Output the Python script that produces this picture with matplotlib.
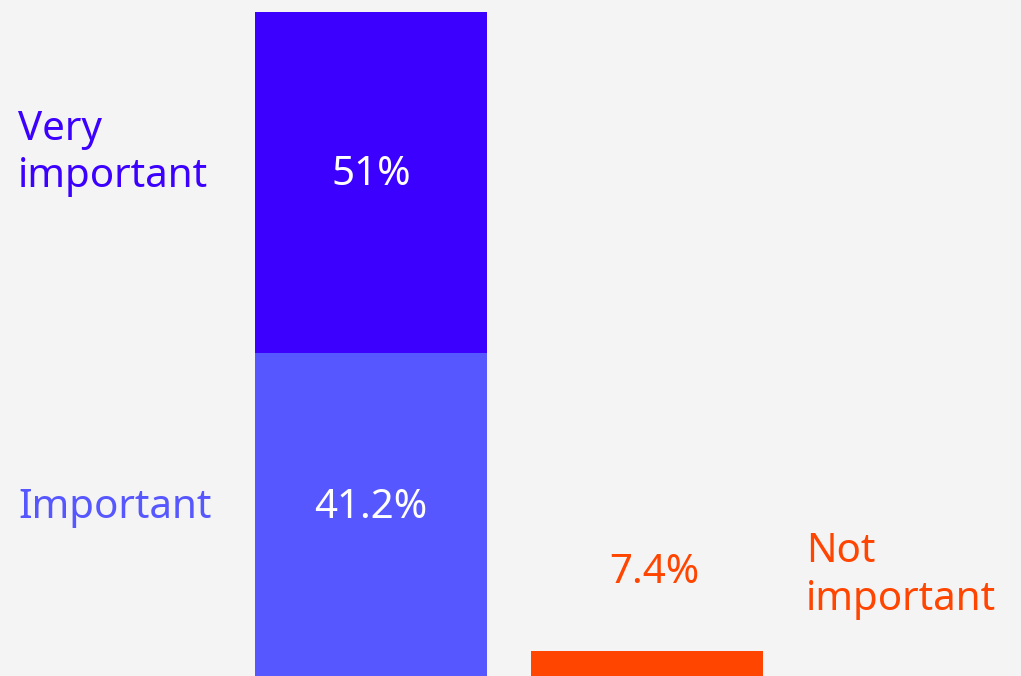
import numpy as np
import matplotlib
matplotlib.use('Agg')
import matplotlib.pyplot as plt

# data
CATEGORIES=['Very important','Important','Not important']
VALUES=[51.0,41.2,7.4]
VALUE_LABELS=['51%','41.2%','7.4%']

BG='#f4f4f4'
COLORS=['#3c00ff','#5757ff','#ff4500']
FONT='Noto Sans'
FONTSIZE=29
BAR_WIDTH=0.84
POWER=0.75

plt.rcParams['font.family']=[FONT,'DejaVu Sans']

def fwd(v):
    v=np.asarray(v,dtype=float)
    return np.sign(v)*np.abs(v)**POWER

def inv(v):
    v=np.asarray(v,dtype=float)
    return np.sign(v)*np.abs(v)**(1/POWER)

fig=plt.figure(figsize=(10.21,6.76),dpi=100)
fig.patch.set_facecolor(BG)
ax=fig.add_axes([0,0,1,1])
ax.set_facecolor(BG)

# stacked bar (very important on top of important), separate bar for not important
ax.bar(0,VALUES[1],width=BAR_WIDTH,color=COLORS[1],linewidth=0)
ax.bar(0,VALUES[0],bottom=VALUES[1],width=BAR_WIDTH,color=COLORS[0],linewidth=0)
ax.bar(1,VALUES[2],width=BAR_WIDTH,color=COLORS[2],linewidth=0)

# compressed scale, baseline sits below the visible area
ax.set_yscale('function',functions=(fwd,inv))
ax.set_xlim(-1.344,2.355)
ax.set_ylim(5.27,94.2)
ax.axis('off')

tr=ax.get_xaxis_transform()
# values
ax.text(0,0.741,VALUE_LABELS[0],color='white',ha='center',va='center',fontsize=FONTSIZE,transform=tr)
ax.text(0,0.249,VALUE_LABELS[1],color='white',ha='center',va='center',fontsize=FONTSIZE,transform=tr)
ax.text(1.025,0.153,VALUE_LABELS[2],color=COLORS[2],ha='center',va='center',fontsize=FONTSIZE,transform=tr)
# category names
ax.text(-1.279,0.773,'Very\nimportant',color=COLORS[0],ha='left',va='center',fontsize=FONTSIZE,linespacing=1.25,transform=tr)
ax.text(-1.279,0.249,CATEGORIES[1],color=COLORS[1],ha='left',va='center',fontsize=FONTSIZE,transform=tr)
ax.text(1.576,0.148,'Not\nimportant',color=COLORS[2],ha='left',va='center',fontsize=FONTSIZE,linespacing=1.25,transform=tr)

fig.savefig('out.png',dpi=100,facecolor=BG)
